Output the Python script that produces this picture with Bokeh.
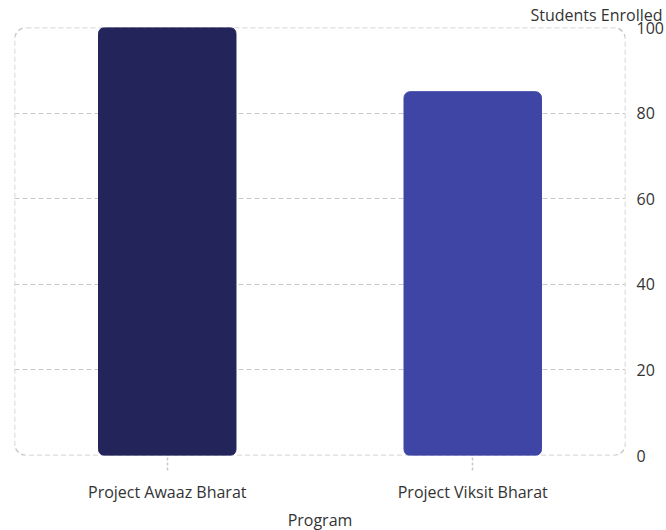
from bokeh.plotting import figure
from bokeh.models import BoxAnnotation, Title, FactorRange, Range1d, FixedTicker, ColumnDataSource
from bokeh.embed import file_html
from bokeh.resources import INLINE

programs = ["Project Awaaz Bharat", "Project Viksit Bharat"]
students = [100, 85]
bar_colors = ["#23255a", "#3e45a5"]
y_ticks = [0, 20, 40, 60, 80, 100]

FONT = "Open Sans"
TEXT = "#333333"
GRID = "#c8c8c8"

src = ColumnDataSource(dict(program=programs, students=students, color=bar_colors))

p = figure(x_range=FactorRange(*programs, range_padding=0), y_range=Range1d(0, 100),
           frame_width=611, frame_height=428, output_backend="svg", toolbar_location=None,
           y_axis_location="right", min_border_left=14, min_border_top=27,
           min_border_right=0, min_border_bottom=0)
p.outline_line_color = None

p.vbar(x="program", top="students", width=0.45, color="color", border_radius=6, source=src)

box = BoxAnnotation(fill_color=None, fill_alpha=0, line_color=GRID, line_alpha=1.0,
                    line_dash="5 3", line_width=1.5, border_radius=12, level="underlay")
p.add_layout(box)

p.xgrid.grid_line_color = None
p.ygrid.grid_line_color = GRID
p.ygrid.grid_line_dash = "5 3"
p.ygrid.grid_line_width = 1.2

p.xaxis.axis_line_color = None
p.xaxis.major_tick_line_color = GRID
p.xaxis.major_tick_line_dash = "3 2"
p.xaxis.major_tick_line_width = 1.5
p.xaxis.major_tick_out = 15
p.xaxis.major_tick_in = 0
p.xaxis.major_label_standoff = 10
p.xaxis.major_label_text_font = FONT
p.xaxis.major_label_text_font_size = "16px"
p.xaxis.major_label_text_color = TEXT
p.xaxis.axis_label = "Program"
p.xaxis.axis_label_text_font = FONT
p.xaxis.axis_label_text_font_size = "16px"
p.xaxis.axis_label_text_font_style = "normal"
p.xaxis.axis_label_text_color = TEXT
p.xaxis.axis_label_standoff = 3

p.yaxis.ticker = FixedTicker(ticks=y_ticks)
p.ygrid.ticker = FixedTicker(ticks=y_ticks)
p.yaxis.axis_line_color = None
p.yaxis.major_tick_line_color = None
p.yaxis.minor_tick_line_color = None
p.yaxis.major_tick_out = 0
p.yaxis.major_tick_in = 0
p.yaxis.major_label_standoff = 11
p.yaxis.major_label_text_font = FONT
p.yaxis.major_label_text_font_size = "16px"
p.yaxis.major_label_text_color = TEXT

ttl = Title(text="Students Enrolled", align="right", offset=-37, text_font=FONT,
            text_font_size="16px", text_font_style="normal", text_color=TEXT, standoff=0,
            vertical_align="top")
p.add_layout(ttl, "above")

open("out.html", "w").write(file_html(p, INLINE))
